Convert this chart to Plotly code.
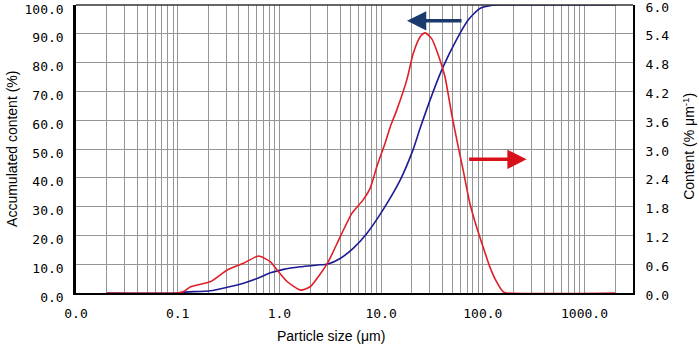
import plotly.graph_objects as go

# Particle size (μm)
red_x = [0.02, 0.1, 0.1146, 0.134, 0.211, 0.307, 0.444, 0.622, 0.817, 0.949, 1.19, 1.61,
         2.01, 2.41, 3.02, 3.96, 5.16, 6.66, 7.80, 9.07, 10.94, 12.25, 14.25, 17.9, 20.7,
         24.1, 27.0, 31.4, 36.5, 42.4, 49.3, 57.3, 64.1, 74.6, 86.7, 100.7, 117, 136, 158,
         172, 2000]
# Content (% μm^-1), right axis
red_y = [0, 0, 0.03, 0.13, 0.24, 0.48, 0.62, 0.77, 0.65, 0.48, 0.24, 0.06,
         0.13, 0.34, 0.65, 1.17, 1.66, 1.94, 2.18, 2.63, 3.12, 3.45, 3.81, 4.44, 4.99,
         5.33, 5.42, 5.30, 4.96, 4.51, 3.74, 3.05, 2.56, 1.87, 1.38, 0.96, 0.55, 0.24, 0.03,
         0, 0]

blue_x = [0.02, 0.1, 0.1146, 0.21, 0.307, 0.444, 0.63, 0.817, 1.10, 1.607, 2.34, 3.0,
          3.96, 5.31, 7.24, 10.4, 15.4, 20.6, 24.1, 32.6, 40.8, 55.2, 71.8, 93.5, 125,
          170, 2000]
# Accumulated content (%), left axis
blue_y = [0, 0, 0.3, 0.8, 2.0, 3.4, 5.3, 7.0, 8.2, 9.1, 9.7, 10.1,
          12.0, 15.5, 20.7, 28.8, 39.2, 49.7, 57.0, 70.0, 78.6, 88.0, 94.8, 98.8, 99.9,
          100, 100]

x_tick_vals = [0.01, 0.1, 1, 10, 100, 1000]
x_tick_text = ["0.0", "0.1", "1.0", "10.0", "100.0", "1000.0"]
y_left_ticks = [0, 10, 20, 30, 40, 50, 60, 70, 80, 90, 100]
y_right_ticks = [0.0, 0.6, 1.2, 1.8, 2.4, 3.0, 3.6, 4.2, 4.8, 5.4, 6.0]

grid_vals = [m * 10 ** k for k in range(-2, 4) for m in range(1, 10) if m * 10 ** k <= 3000]
grid_text = [x_tick_text[x_tick_vals.index(v)] if v in x_tick_vals else "" for v in grid_vals]

RED = "#e01e25"
BLUE = "#1c1c96"
GRID = "#959595"
tickfont = dict(family="DejaVu Sans Mono", size=13, color="black")

fig = go.Figure()
fig.add_trace(go.Scatter(x=blue_x, y=blue_y, mode="lines", yaxis="y",
                         line=dict(color=BLUE, width=1.6, shape="spline", smoothing=0.6),
                         showlegend=False))
fig.add_trace(go.Scatter(x=red_x, y=red_y, mode="lines", yaxis="y2",
                         line=dict(color=RED, width=1.6, shape="spline", smoothing=0.6),
                         showlegend=False))

fig.update_layout(
    width=699, height=347,
    margin=dict(l=76, r=66, t=5, b=54),
    paper_bgcolor="white", plot_bgcolor="white",
    xaxis=dict(type="log", range=[-2, 3.477], tickvals=grid_vals, ticktext=grid_text,
               showgrid=True, gridcolor=GRID, gridwidth=1, automargin=False,
               showline=True, linecolor="black", linewidth=2, ticks="",
               tickfont=tickfont, ticklabelstandoff=7, zeroline=False,
               ticklabeloverflow="allow"),
    yaxis=dict(range=[0, 100], tickvals=y_left_ticks,
               ticktext=[f"{v:.1f}" for v in y_left_ticks], showgrid=True,
               gridcolor=GRID, gridwidth=1, showline=True, linecolor="black",
               linewidth=2.5, ticks="", tickfont=tickfont, ticklabelstandoff=7,
               ticklabelshift=4, zeroline=False, automargin=False,
               ticklabeloverflow="allow"),
    yaxis2=dict(range=[0, 6], tickvals=y_right_ticks,
                ticktext=[f"{v:.1f}" for v in y_right_ticks], overlaying="y", side="right",
                showgrid=False, showline=True, linecolor="black", linewidth=2,
                ticks="", tickfont=tickfont, ticklabelstandoff=8, ticklabelshift=2,
                zeroline=False, automargin=False, ticklabeloverflow="allow"),
    annotations=[
        dict(text="Particle size (μm)", xref="paper", yref="paper", x=0.458, y=-0.115,
             yanchor="top", showarrow=False,
             font=dict(family="Liberation Sans", size=14, color="black")),
        dict(text="Accumulated content (%)", xref="paper", yref="paper", x=-0.115, y=0.5,
             textangle=-90, showarrow=False, xanchor="center",
             font=dict(family="Liberation Sans", size=14, color="black")),
        dict(text="Content (% μm<sup>-1</sup>)", xref="paper", yref="paper", x=1.1, y=0.51,
             textangle=-90, showarrow=False, xanchor="center",
             font=dict(family="Liberation Sans", size=14, color="black")),
        dict(x=1.255, y=94.5, xref="x", yref="y", ax=56, ay=0,
             text="", showarrow=True, arrowhead=2, arrowsize=1.1, arrowwidth=3.5,
             arrowcolor="#1a3a6e"),
        dict(x=2.431, y=46.4, xref="x", yref="y", ax=-59, ay=0,
             text="", showarrow=True, arrowhead=2, arrowsize=1.1, arrowwidth=3.5,
             arrowcolor="#d8101a"),
    ],
    shapes=[dict(type="line", xref="paper", yref="paper", x0=0, x1=1, y0=1, y1=1,
                 line=dict(color="#333333", width=1.5))],
)

fig.write_html("out.html", config={"displayModeBar": False},
               post_script="document.body.style.margin='0';")
